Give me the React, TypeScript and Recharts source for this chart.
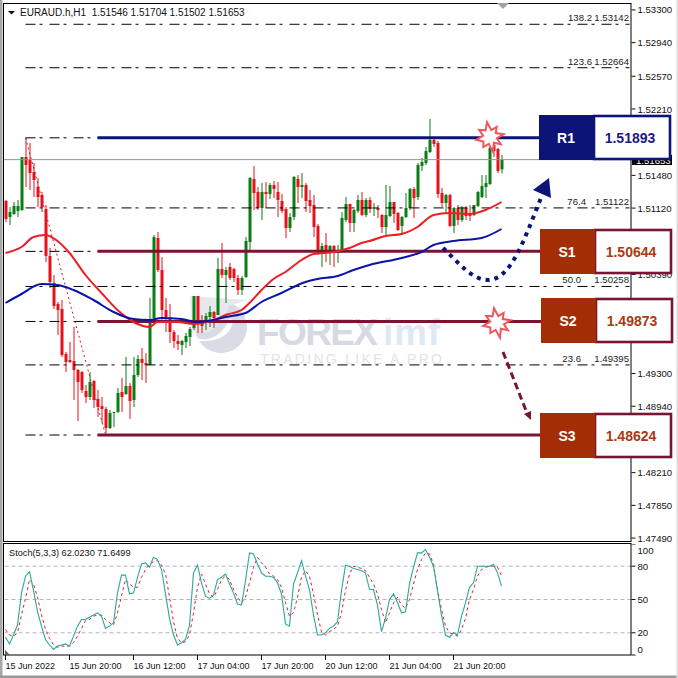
import { Bar, ComposedChart, Line, ReferenceLine, XAxis, YAxis } from 'recharts'

const SLOTS = 157

const opens = [
  1.51198,1.51022,1.51055,1.51088,1.51099,1.51682,1.51649,1.51517,1.51352,1.51264,
  1.5111,1.50593,1.50296,1.50065,1.5001,1.49515,1.49449,1.49438,1.49339,1.49317,
  1.49108,1.49042,1.49218,1.4902,1.48943,1.4891,1.48701,1.48866,1.48877,1.49097,
  1.49075,1.49163,1.49009,1.49284,1.4946,1.49416,1.49394,1.49911,1.50791,1.50439,
  1.49999,1.49911,1.49757,1.49658,1.49614,1.49647,1.49702,1.49801,1.50153,1.49867,
  1.49856,1.49922,1.49977,1.49944,1.5045,1.50384,1.50472,1.5045,1.50351,1.50219,
  1.50362,1.50747,1.5144,1.51297,1.51121,1.51297,1.51275,1.51374,1.51297,1.51198,
  1.5111,1.50901,1.51022,1.5144,1.51352,1.51374,1.51209,1.51154,1.50923,1.50615,
  1.50714,1.50626,1.50703,1.50626,1.50659,1.50989,1.51165,1.50956,1.51088,1.51209,
  1.51044,1.51209,1.5111,1.51121,1.51044,1.50912,1.51033,1.51187,1.51066,1.50923,
  1.51022,1.51121,1.5133,1.51242,1.51583,1.51616,1.51737,1.51869,1.51836,1.51286,
  1.51176,1.51264,1.50923,1.51121,1.50989,1.51121,1.51066,1.51044,1.51143,1.51242,
  1.51352,1.51385,1.51814,1.5177,1.51546,
]
const highs = [
  1.51209,1.51132,1.51187,1.51209,1.51682,1.51891,1.51836,1.51616,1.51451,1.51297,
  1.51154,1.50681,1.50384,1.50087,1.50109,1.49537,1.49647,1.49812,1.4935,1.49328,
  1.49174,1.49317,1.49229,1.49119,1.49042,1.48932,1.48899,1.48877,1.49141,1.49251,
  1.49482,1.49196,1.49482,1.49504,1.49581,1.49526,1.50131,1.50824,1.50857,1.50582,
  1.50131,1.50065,1.49779,1.49724,1.49669,1.49746,1.49812,1.50153,1.50153,1.49944,
  1.49966,1.50043,1.49988,1.50571,1.50736,1.50472,1.50516,1.50461,1.50384,1.50373,
  1.50802,1.51462,1.51583,1.51352,1.51396,1.51407,1.51396,1.51418,1.51407,1.51275,
  1.51132,1.51066,1.51473,1.51484,1.51506,1.51396,1.51319,1.51264,1.50945,1.50736,
  1.50846,1.50714,1.50714,1.50714,1.51077,1.51242,1.51165,1.5111,1.51264,1.51297,
  1.51231,1.51242,1.51176,1.51154,1.51055,1.51374,1.51363,1.51187,1.51077,1.51033,
  1.51286,1.51341,1.51352,1.51616,1.51671,1.51792,1.521,1.5188,1.51858,1.51341,
  1.51275,1.51275,1.51132,1.51154,1.51143,1.51143,1.51154,1.51154,1.51308,1.51484,
  1.51484,1.51792,1.51869,1.51781,1.51704,
]
const lows = [
  1.50967,1.50934,1.51044,1.51022,1.51088,1.51352,1.51319,1.51242,1.51132,1.51077,
  1.50527,1.50241,1.5001,1.49724,1.49482,1.49317,1.49416,1.49009,1.48778,1.49086,
  1.48976,1.49009,1.48921,1.48822,1.48756,1.48646,1.4869,1.48712,1.48866,1.48877,
  1.49064,1.488,1.48932,1.49262,1.49229,1.49196,1.49394,1.49889,1.50417,1.49856,
  1.49757,1.49636,1.49581,1.49559,1.49504,1.49581,1.49603,1.49779,1.49746,1.49746,
  1.49779,1.49812,1.49801,1.49944,1.50351,1.50076,1.50329,1.50307,1.50164,1.50164,
  1.50351,1.50659,1.51099,1.51099,1.50989,1.51121,1.5122,1.51231,1.51022,1.51066,
  1.50791,1.50857,1.50989,1.51176,1.51231,1.51077,1.51066,1.50802,1.50604,1.50472,
  1.50527,1.50494,1.50472,1.50516,1.50626,1.50967,1.50857,1.50857,1.51066,1.51033,
  1.51022,1.51066,1.51033,1.51011,1.50846,1.50802,1.51022,1.50956,1.50868,1.50824,
  1.51011,1.51099,1.51011,1.51209,1.51528,1.51594,1.51726,1.51792,1.51231,1.51132,
  1.51066,1.50912,1.50846,1.50934,1.50967,1.50989,1.50978,1.51033,1.51132,1.51231,
  1.51231,1.51374,1.51682,1.51506,1.51502,
]
const closes = [
  1.51,1.51077,1.51143,1.51143,1.51682,1.51594,1.51506,1.51429,1.51242,1.51132,
  1.50593,1.50307,1.50043,1.49999,1.49504,1.49427,1.49427,1.49339,1.49207,1.49119,
  1.49042,1.49207,1.49009,1.48932,1.4891,1.48701,1.48866,1.48877,1.49086,1.49042,
  1.49163,1.48998,1.49284,1.4946,1.49416,1.49394,1.49867,1.50802,1.50439,1.49999,
  1.49922,1.49757,1.49658,1.49625,1.49658,1.49713,1.4979,1.50153,1.49856,1.49823,
  1.49933,1.49977,1.49911,1.5045,1.50384,1.50439,1.50351,1.50351,1.50219,1.50351,
  1.50758,1.51451,1.51286,1.51121,1.51297,1.51275,1.51374,1.5133,1.51209,1.51088,
  1.50901,1.51022,1.51462,1.51352,1.51374,1.51198,1.51143,1.50912,1.50659,1.50703,
  1.50626,1.50703,1.50626,1.50637,1.51011,1.51165,1.50956,1.51099,1.51209,1.51044,
  1.51209,1.5111,1.51132,1.51099,1.50912,1.51044,1.51187,1.51055,1.50879,1.51022,
  1.51121,1.5133,1.51231,1.51594,1.51627,1.51748,1.51869,1.51825,1.51275,1.51176,
  1.51264,1.50923,1.51121,1.50989,1.51121,1.51033,1.51033,1.51154,1.51297,1.51363,
  1.51396,1.51781,1.51748,1.51528,1.51653,
]

// moving averages, read at the bends only
const redMaBars = [0,4,7,10,13,16,20,24,28,32,36,38,43,47,52,55,59,61,64,67,70,74,77,82,86,89,91,95,99,103,107,111,116,120,124]
const redMaValues = [
  1.50626,1.50692,1.50802,1.50824,1.50758,1.50626,1.50384,1.50186,1.49999,1.49867,
  1.49812,1.49867,1.49867,1.49845,1.49889,1.49944,1.49999,1.50076,1.50219,1.5034,
  1.50417,1.50549,1.50615,1.50637,1.50681,1.50736,1.50758,1.50813,1.50835,1.50912,
  1.51044,1.51066,1.51055,1.51099,1.51187,
]
const blueMaBars = [0,4,9,13,17,22,27,32,36,39,44,48,52,55,60,64,69,75,78,83,87,91,99,104,107,112,119,124]
const blueMaValues = [
  1.50076,1.50175,1.50285,1.50274,1.50219,1.50109,1.49977,1.499,1.49889,1.49911,
  1.499,1.49867,1.49889,1.49922,1.49966,1.50087,1.50186,1.50307,1.5034,1.50373,
  1.50439,1.50494,1.50571,1.50637,1.50714,1.50758,1.50791,1.5089,
]

const stochMain = [
  16,10,18,27,56,71,75,58,39,26,14,9,5,8,9,10,8,17,26,32,32,34,36,38,35,
  24,26,29,56,72,72,55,56,70,82,83,79,88,86,77,55,33,18,9,11,14,27,74,81,65,
  53,51,54,68,70,73,64,56,46,45,67,92,91,82,74,71,71,70,65,55,28,26,64,74,85,
  71,59,36,18,18,20,24,26,30,58,81,80,78,77,76,74,59,59,45,21,33,50,55,47,38,
  39,64,79,92,92,95,88,80,58,36,18,16,20,18,35,47,61,65,80,80,80,80,81.5,74,62.023,
]
const stochSignal = [
  23,18,17,20,36,51,68,64,52,36,23,15,9,7,8,8,8,11,17,24,31,32,35,36,36,
  32,29,27,38,53,68,64,61,61,70,77,82,84,85,81,73,52,30,15,11,12,18,38,61,73,
  64,55,52,59,68,71,68,59,52,47,52,65,79,88,83,79,73,71,68,61,47,35,38,52,70,
  76,71,55,36,21,18,21,23,26,38,58,73,80,79,78,76,70,64,55,41,29,38,47,52,45,
  42,50,64,77,86,92,91,82,59,41,26,20,19,17,23,33,50,59,71,77,79,80,80,79,71.6499,
]

// 1.5185, 1.5076, 1.5003 and 1.4858 sit behind the level boxes in the original
const priceTicks = [
  1.533,1.5294,1.5257,1.5221,1.5148,1.5112,1.5039,
  1.4967,1.493,1.4894,1.4821,1.4785,1.4749,
]
const fibRatios = ['138.2','123.6','100.0','76.4','61.8','50.0','38.2','23.6','0.0']
const fibPrices = [1.53142,1.52664,1.51893,1.51122,1.50644,1.50258,1.49873,1.49395,1.48624]

const resistanceLevels = [1.51893]
const supportLevels = [1.50644,1.49873,1.48624]

const timeTickBars = [0,16,32,48,64,80,96,112]
const timeTickLabels = [
  '15 Jun 2022','15 Jun 20:00','16 Jun 12:00','17 Jun 04:00',
  '17 Jun 20:00','20 Jun 12:00','21 Jun 04:00','21 Jun 20:00',
]

const stochTicks = [0,20,50,80,100]
const stochLevels = [20,50,80]

const lastClose = closes[closes.length - 1]

const rows = Array.from({ length: SLOTS }, (_, i) => {
  const redAt = redMaBars.indexOf(i)
  const blueAt = blueMaBars.indexOf(i)
  return {
    slot: i,
    open: opens[i] ?? null,
    high: highs[i] ?? null,
    low: lows[i] ?? null,
    close: closes[i] ?? null,
    range: highs[i] != null ? [lows[i], highs[i]] : null,
    redMa: redAt >= 0 ? redMaValues[redAt] : null,
    blueMa: blueAt >= 0 ? blueMaValues[blueAt] : null,
    main: stochMain[i] ?? null,
    signal: stochSignal[i] ?? null,
  }
})

const FONT = '"Liberation Sans", Arial, sans-serif'
const NAVY = '#0c1478'
const MAROON = '#7a1433'
const RUST = '#a32e05'
const GREEN = '#0a7d16'
const RED = '#e5111b'

const Candle = (props: any) => {
  const { x, y, width, height, payload } = props
  if (!payload || payload.high == null) return null
  const cx = x + width / 2
  const k = height / (payload.high - payload.low)
  const top = y + (payload.high - Math.max(payload.open, payload.close)) * k
  const bottom = y + (payload.high - Math.min(payload.open, payload.close)) * k
  const color = payload.close >= payload.open ? GREEN : RED
  return (
    <g>
      <line x1={cx} x2={cx} y1={y} y2={y + height} stroke={color} strokeWidth={1} />
      <rect x={cx - 1.5} y={top} width={3} height={Math.max(bottom - top, 1)} fill={color} />
    </g>
  )
}

const PriceTick = (props: any) => {
  const { x, y, payload } = props
  return (
    <text x={x} y={y + 3.5} fontSize={9.6} fontFamily={FONT} fill="#111">
      {payload.value.toFixed(5)}
    </text>
  )
}

const StochTick = (props: any) => {
  const { x, y, payload } = props
  const nudge = payload.value === 100 ? 6 : payload.value === 0 ? -6 : 0
  return (
    <text x={x} y={y + 3.5 + nudge} fontSize={9.6} fontFamily={FONT} fill="#111">
      {payload.value}
    </text>
  )
}

const TimeTick = (props: any) => {
  const { x, y, payload } = props
  return (
    <text x={x} y={y + 9} fontSize={9} fontFamily={FONT} fill="#111">
      {timeTickLabels[timeTickBars.indexOf(payload.value)]}
    </text>
  )
}

const ratioRight = (ratio: string) => (ratio.length > 4 ? 592 : ratio === '76.4' ? 586 : 581)

const fibLabel = (ratio: string, price: number) => (props: any) => {
  const box = props.viewBox
  return (
    <g fontSize={9.6} fontFamily={FONT} fill="#222">
      <text x={ratioRight(ratio)} y={box.y - 3} textAnchor="end">{ratio}</text>
      <text x={629} y={box.y - 3} textAnchor="end">{price.toFixed(5)}</text>
    </g>
  )
}

const Starburst = ({ cx, cy }: { cx: number; cy: number }) => {
  const radii = [14,7,13,7,15,7,12,8,14,7,13,8,15,7,12,7]
  const points = radii
    .map((r, i) => {
      const a = (i / radii.length) * Math.PI * 2 - 0.2
      return `${cx + Math.cos(a) * r},${cy + Math.sin(a) * r}`
    })
    .join(' ')
  return <polygon points={points} fill="#fff" stroke="#f0575c" strokeWidth={2} />
}

const LevelBox = ({ name, value, top, height, left, color, border, text }: any) => (
  <g fontFamily={FONT} fontWeight="bold">
    <rect x={left + 55} y={top + 1} width={76} height={height - 2} fill="#fff" stroke={border} strokeWidth={2.6} />
    <rect x={left} y={top} width={55} height={height} fill={color} />
    <text x={left + 27} y={top + height / 2 + 5} fontSize={14} fill="#fff" textAnchor="middle">{name}</text>
    <text x={left + 91} y={top + height / 2 + 5} fontSize={14} fill={text} textAnchor="middle">{value}</text>
  </g>
)

export default function App() {
  return (
    <div style={{ position: 'absolute', left: 0, top: 0, width: 678, height: 678, background: '#fff', overflow: 'hidden' }}>
      <svg width={678} height={678} style={{ position: 'absolute', left: 0, top: 0 }}>
        <circle cx={221} cy={327} r={26} fill="#d9dce6" />
        <path d="M192 330 C206 338 222 328 229 306 L247 300 L190 296 Z" fill="#e6e8ee" />
        <path d="M196 338 C210 343 224 334 230 318 L233 322 C230 336 218 342 198 341 Z" fill="#fff" />
        <text x={257} y={345} fontSize={37} fontWeight="bold" fontFamily={FONT} fill="#d6dae3" textLength={121}>FOREX</text>
        <text x={383} y={345} fontSize={37} fontWeight="bold" fontFamily={FONT} fill="#dde9f3" textLength={57}>imf</text>
        <text x={260} y={364} fontSize={14} fontFamily={FONT} fill="#e2e4e8" textLength={182}>TRADING LIKE A PRO</text>
      </svg>

      <div style={{ position: 'absolute', left: 0, top: 4 }}>
        <ComposedChart
          width={678}
          height={542}
          data={rows}
          barCategoryGap={0}
          margin={{ top: 0, right: 0, bottom: 4, left: 3.5 }}
        >
          <XAxis dataKey="slot" type="category" scale="band" hide />
          <YAxis
            orientation="right"
            width={46.5}
            domain={[1.47447, 1.53365]}
            allowDataOverflow
            ticks={priceTicks}
            interval={0}
            axisLine={false}
            tickSize={4}
            tickMargin={2}
            tickLine={{ stroke: '#111' }}
            tick={<PriceTick />}
          />
          <ReferenceLine y={lastClose} stroke="#8f959c" strokeWidth={1} />
          {fibPrices.map((p, i) => (
            <ReferenceLine
              key={p}
              segment={[{ x: 5, y: p }, { x: 156, y: p }]}
              stroke="#000"
              strokeWidth={1}
              strokeDasharray="10 4 3 7"
              label={resistanceLevels.includes(p) || supportLevels.includes(p) ? undefined : fibLabel(fibRatios[i], p)}
            />
          ))}
          <ReferenceLine
            segment={[{ x: 5, y: fibPrices[2] }, { x: 25, y: fibPrices[8] }]}
            stroke={RED}
            strokeWidth={1}
            strokeDasharray="2 3"
          />
          {resistanceLevels.map((p) => (
            <ReferenceLine key={p} segment={[{ x: 23, y: p }, { x: 134, y: p }]} stroke={NAVY} strokeWidth={3} />
          ))}
          {supportLevels.map((p) => (
            <ReferenceLine key={p} segment={[{ x: 23, y: p }, { x: 134, y: p }]} stroke={MAROON} strokeWidth={3} />
          ))}
          <Bar dataKey="range" barSize={3} shape={<Candle />} isAnimationActive={false} />
          <Line dataKey="redMa" type="monotone" connectNulls dot={false} stroke="#ee1c25" strokeWidth={2} isAnimationActive={false} />
          <Line dataKey="blueMa" type="monotone" connectNulls dot={false} stroke="#0a14a8" strokeWidth={2} isAnimationActive={false} />
        </ComposedChart>
      </div>

      <div style={{ position: 'absolute', left: 0, top: 544 }}>
        <ComposedChart
          width={678}
          height={134}
          data={rows}
          barCategoryGap={0}
          margin={{ top: 0, right: 0, bottom: 0, left: 3.5 }}
        >
          <XAxis
            dataKey="slot"
            type="category"
            scale="band"
            height={23}
            ticks={timeTickBars}
            interval={0}
            axisLine={false}
            tickSize={5}
            tickMargin={0}
            tickLine={{ stroke: '#111' }}
            tick={<TimeTick />}
          />
          <YAxis
            orientation="right"
            width={46.5}
            domain={[0, 100]}
            ticks={stochTicks}
            interval={0}
            axisLine={false}
            tickSize={4}
            tickMargin={2}
            tickLine={{ stroke: '#111' }}
            tick={<StochTick />}
          />
          {stochLevels.map((v) => (
            <ReferenceLine key={v} y={v} stroke="#b5b5b5" strokeWidth={1} strokeDasharray="4 3" />
          ))}
          <Line dataKey="signal" connectNulls={false} dot={false} stroke="#e0202a" strokeWidth={1} strokeDasharray="3 3" isAnimationActive={false} />
          <Line dataKey="main" connectNulls={false} dot={false} stroke="#2aa89c" strokeWidth={1.1} isAnimationActive={false} />
        </ComposedChart>
      </div>

      <svg width={678} height={678} style={{ position: 'absolute', left: 0, top: 0 }}>
        <rect x={0} y={0} width={2.5} height={678} fill="#a8a8a8" />
        <rect x={0} y={675.5} width={678} height={2.5} fill="#9a9a9a" />
        <rect x={676.5} y={0} width={1.5} height={678} fill="#dcdcdc" />
        <rect x={3.5} y={3.5} width={627.5} height={538} fill="none" stroke="#000" />
        <rect x={3.5} y={543.5} width={627.5} height={111.5} fill="none" stroke="#000" />

        <polygon points="8,11 15,11 11.5,14.5" fill="#111" />
        <text x={20} y={16} fontSize={10} fontFamily={FONT} fill="#111" style={{ whiteSpace: 'pre' }}>EURAUD.h,H1  1.51546 1.51704 1.51502 1.51653</text>
        <polygon points="497,3 509,3 503,9" fill="#9da1a8" />
        <text x={9} y={556} fontSize={9.2} fontFamily={FONT} fill="#111">Stoch(5,3,3) 62.0230 71.6499</text>
        <polygon points="5,650 5,655 10,655" fill="#5d6266" />

        <rect x={632} y={155} width={40} height={10} fill="#000" />
        <text x={636} y={163.5} fontSize={9.6} fontFamily={FONT} fill="#fff">1.51653</text>

        <path d="M443 248 C458 262 472 280 488 280 C512 280 526 234 541 198" fill="none" stroke={NAVY} strokeWidth={4} strokeDasharray="4 5" />
        <polygon points="533,190 549,178 551,198" fill={NAVY} />
        <line x1={503} y1={352} x2={527} y2={413} stroke={MAROON} strokeWidth={3} strokeDasharray="7 4" />
        <polygon points="531,420 524,414 531,411" fill={MAROON} />

        <Starburst cx={490} cy={137} />
        <Starburst cx={497} cy={323} />

        <LevelBox name="R1" value="1.51893" left={539} top={115} height={45} color={NAVY} border={NAVY} text="#1c1a80" />
        <LevelBox name="S1" value="1.50644" left={540} top={229} height={45} color={RUST} border={MAROON} text="#a83a14" />
        <LevelBox name="S2" value="1.49873" left={541} top={298} height={45} color={RUST} border={MAROON} text="#a83a14" />
        <LevelBox name="S3" value="1.48624" left={540} top={413} height={45} color={RUST} border={MAROON} text="#a83a14" />
      </svg>
    </div>
  )
}
